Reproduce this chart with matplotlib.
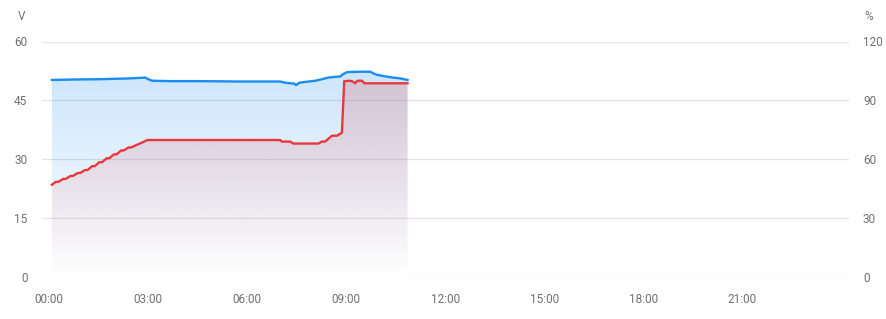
import matplotlib
matplotlib.use("Agg")
import matplotlib.pyplot as plt
import numpy as np
from matplotlib.ticker import FixedLocator, FuncFormatter
from matplotlib.colors import to_rgb

plt.rcParams['font.family'] = ['Roboto', 'DejaVu Sans']

# Voltage (V), left axis, time in hours
volt_t = [0.08, 0.64, 1.55, 2.45, 2.91, 3.0, 3.12, 3.67, 4.58, 5.79, 7.0, 7.15, 7.36,
          7.42, 7.48, 7.58, 7.76, 8.06, 8.27, 8.45, 8.67, 8.82, 8.91, 9.03, 9.42, 9.73,
          9.82, 9.94, 10.33, 10.64, 10.86]
volt_v = [50.2, 50.3, 50.4, 50.6, 50.8, 50.4, 50.0, 49.9, 49.9, 49.8, 49.8, 49.5, 49.3,
          49.3, 48.9, 49.5, 49.7, 50.0, 50.4, 50.8, 51.0, 51.1, 51.7, 52.2, 52.3, 52.3,
          51.9, 51.5, 50.9, 50.6, 50.2]

# State of charge (%), right axis
soc_t = [0.08, 0.20, 0.28, 0.42, 0.50, 0.64, 0.72, 0.86, 0.94, 1.08, 1.16, 1.30, 1.38,
         1.52, 1.60, 1.74, 1.82, 1.96, 2.04, 2.18, 2.26, 2.40, 2.48, 2.98, 7.0, 7.05,
         7.30, 7.40, 8.16, 8.26, 8.36, 8.57, 8.72, 8.87, 8.94, 9.12, 9.20, 9.27, 9.34,
         9.48, 9.55, 10.86]
soc_v = [47, 48.5, 48.5, 50, 50, 51.5, 51.5, 53, 53, 54.5, 54.5, 56.5, 56.5,
         58.5, 58.5, 60.5, 60.5, 62.5, 62.5, 64.5, 64.5, 66, 66, 69.8, 69.8, 69,
         69, 68, 68, 69, 69, 72, 72, 73.5, 99.8, 100, 99.6, 98.7, 100,
         100, 98.7, 98.7]

x_ticks = [0, 3, 6, 9, 12, 15, 18, 21]
left_ticks = [0, 15, 30, 45, 60]
right_ticks = [0, 30, 60, 90, 120]

BLUE = '#1b8cf0'
RED = '#e8383b'
TXT = '#707070'

fig = plt.figure(figsize=(8.87, 3.19), dpi=100)
ax = fig.add_axes([42/887, 1-277/319, (849-42)/887, (277-41.5)/319])
ax2 = ax.twinx()


def gradient_fill(a, x, y, color, alpha_top, ymax, z):
    x = np.asarray(x, float)
    y = np.asarray(y, float)
    poly = a.fill_between(x, y, 0, color='none', lw=0)
    rgb = to_rgb(color)
    n = 256
    grad = np.zeros((n, 1, 4))
    grad[:, 0, :3] = rgb
    grad[:, 0, 3] = np.linspace(alpha_top, 0.0, n)
    im = a.imshow(grad, extent=[x.min(), x.max(), 0, ymax], origin='upper',
                  aspect='auto', zorder=z, interpolation='bilinear')
    path = poly.get_paths()[0]
    im.set_clip_path(path, transform=a.transData)


gradient_fill(ax, volt_t, volt_v, BLUE, 0.22, max(volt_v), 1)
ax.plot(volt_t, volt_v, color=BLUE, lw=1.7, zorder=3, solid_joinstyle='round')

gradient_fill(ax2, soc_t, soc_v, RED, 0.20, max(soc_v), 1)
ax2.plot(soc_t, soc_v, color=RED, lw=1.7, zorder=3, solid_joinstyle='round')

for a in (ax, ax2):
    a.set_xlim(-0.22, 24.24)
    for s in a.spines.values():
        s.set_visible(False)
    a.patch.set_visible(False)

ax.set_ylim(0, 60)
ax2.set_ylim(0, 120)
ax.yaxis.set_major_locator(FixedLocator(left_ticks))
ax2.yaxis.set_major_locator(FixedLocator(right_ticks))
ax.xaxis.set_major_locator(FixedLocator(x_ticks))
ax.xaxis.set_major_formatter(FuncFormatter(lambda v, p: f"{int(v):02d}:00"))

ax.grid(axis='y', color='#e4e4e4', lw=0.9)
ax.set_axisbelow(True)
ax.tick_params(axis='y', length=0, pad=10.5, labelsize=8.5, labelcolor=TXT)
ax.tick_params(axis='x', length=0, pad=11.5, labelsize=8.5, labelcolor=TXT)
ax2.tick_params(axis='y', length=0, pad=10, labelsize=8.5, labelcolor=TXT)

fig.text(22/887, 1-17/319, 'V', ha='center', va='center', fontsize=8.5, color=TXT)
fig.text(869/887, 1-17/319, '%', ha='center', va='center', fontsize=8.5, color=TXT)

fig.savefig('out.png', dpi=100, facecolor='white')
